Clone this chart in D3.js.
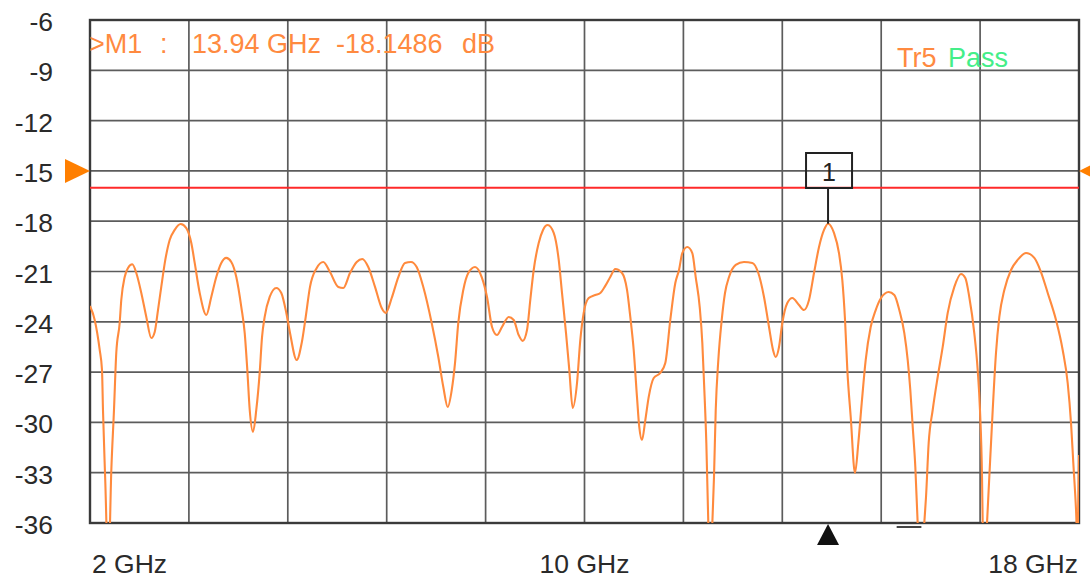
<!DOCTYPE html>
<html>
<head>
<meta charset="utf-8">
<script src="https://cdn.jsdelivr.net/npm/d3@7"></script>
<style>
  html, body { margin: 0; padding: 0; background: #fff; }
  svg { display: block; }
  text { font-family: "Liberation Sans", Arial, sans-serif; }
</style>
</head>
<body>
<svg id="chart" width="1090" height="580"></svg>
<script>
// ---- data ----
const freqGHz = [2.000,2.076,2.157,2.194,2.210,2.248,2.296,2.345,2.388,2.425,
2.480,2.506,2.561,2.615,2.684,2.749,2.830,2.911,2.992,3.047,
3.100,3.153,3.218,3.289,3.370,3.467,3.558,3.639,3.694,3.775,
3.882,3.962,4.043,4.124,4.205,4.286,4.367,4.448,4.503,4.545,
4.584,4.637,4.690,4.745,4.783,4.826,4.907,5.014,5.095,5.176,
5.236,5.344,5.425,5.490,5.559,5.668,5.774,5.883,6.017,6.098,
6.206,6.315,6.405,6.502,6.611,6.719,6.784,6.881,6.988,7.096,
7.193,7.285,7.392,7.528,7.635,7.716,7.787,7.852,7.905,7.958,
8.039,8.120,8.229,8.337,8.423,8.504,8.584,8.665,8.774,8.855,
8.935,9.000,9.070,9.123,9.178,9.259,9.329,9.405,9.502,9.583,
9.636,9.701,9.754,9.809,9.879,9.932,9.987,10.068,10.175,10.256,
10.336,10.417,10.498,10.607,10.688,10.741,10.796,10.849,10.886,10.930,
10.984,11.039,11.120,11.226,11.307,11.388,11.469,11.529,11.582,11.663,
11.744,11.799,11.864,11.906,11.934,11.971,12.003,12.035,12.068,12.095,
12.123,12.165,12.220,12.273,12.338,12.446,12.580,12.715,12.812,12.904,
12.985,13.050,13.093,13.147,13.200,13.281,13.362,13.470,13.551,13.632,
13.713,13.794,13.875,13.940,14.036,14.117,14.171,14.215,14.252,14.307,
14.376,14.430,14.485,14.549,14.630,14.711,14.797,14.921,15.012,15.093,
15.174,15.229,15.271,15.310,15.352,15.390,15.444,15.497,15.525,15.568,
15.633,15.714,15.795,15.876,15.983,16.091,16.161,16.225,16.306,16.361,
16.398,16.431,16.442,16.476,16.512,16.549,16.604,16.657,16.711,16.792,
16.900,17.008,17.143,17.277,17.385,17.494,17.628,17.736,17.817,17.871,
17.908,17.952,17.973,18.000];

const magDB = [-23.06,-23.89,-25.68,-26.87,-29.26,-33.61,-39,-32.84,-29.26,-25.86,
-24.07,-22.70,-21.33,-20.79,-20.57,-21.09,-22.28,-23.71,-24.97,-24.61,
-23.30,-21.92,-20.31,-19.12,-18.52,-18.17,-18.41,-19.30,-20.49,-22.28,
-23.59,-22.52,-21.33,-20.49,-20.19,-20.43,-21.33,-23.12,-24.67,-26.87,
-29.26,-30.57,-29.26,-27.05,-24.91,-23.71,-22.52,-21.98,-22.28,-23.47,
-24.67,-26.28,-25.26,-23.71,-21.92,-20.79,-20.43,-21.03,-21.92,-21.98,
-21.09,-20.43,-20.25,-20.73,-21.92,-23.18,-23.47,-22.58,-21.33,-20.49,
-20.43,-20.73,-21.92,-24.07,-26.10,-27.89,-29.08,-28.07,-26.46,-24.07,
-22.10,-21.09,-20.73,-21.33,-22.52,-24.31,-24.79,-24.31,-23.71,-23.89,
-24.79,-25.14,-24.49,-22.70,-20.91,-19.30,-18.52,-18.23,-18.70,-20.31,
-22.28,-24.67,-26.87,-29.14,-27.65,-25.09,-23.47,-22.58,-22.40,-22.28,
-21.86,-21.33,-20.85,-21.09,-22.10,-23.71,-25.68,-28.48,-30.27,-31.05,
-29.86,-28.48,-27.35,-27.05,-26.46,-23.89,-21.69,-20.91,-19.90,-19.54,
-19.90,-21.33,-23.12,-25.26,-27.65,-31.23,-36.0,-39,-36.0,-33.26,
-29.26,-26.28,-23.89,-22.28,-21.33,-20.61,-20.43,-20.49,-21.09,-22.52,
-24.31,-25.68,-26.10,-25.50,-24.07,-22.88,-22.58,-23.00,-23.30,-22.70,
-21.09,-19.54,-18.52,-18.15,-18.70,-19.90,-21.51,-23.89,-26.87,-29.68,
-33.02,-31.23,-28.84,-26.28,-24.31,-23.30,-22.58,-22.22,-22.40,-23.30,
-24.67,-26.28,-28.07,-30.27,-32.66,-36.0,-39,-36.0,-34.45,-31.23,
-29.26,-27.29,-25.50,-23.47,-21.92,-21.15,-21.39,-22.52,-24.67,-26.87,
-29.26,-33.26,-36.0,-39,-36.0,-33.26,-29.26,-25.86,-23.71,-22.10,
-20.91,-20.31,-19.90,-20.19,-21.03,-22.28,-23.89,-25.68,-27.65,-30.04,
-32.42,-35.22,-37,-31.94];

const yTicks = [-6,-9,-12,-15,-18,-21,-24,-27,-30,-33,-36];
const xGridGHz = [2,3.6,5.2,6.8,8.4,10,11.6,13.2,14.8,16.4,18];
const xLabels = [{f:2, t:"2 GHz", a:"start"}, {f:10, t:"10 GHz", a:"middle"}, {f:18, t:"18 GHz", a:"end"}];
const limitDB = -16;
const refDB = -15;
const marker = {name:"M1", f:13.94, db:-18.1486};
const markerText = [">M1", ":", "13.94 GHz", "-18.1486", "dB"];
const traceName = "Tr5";
const passText = "Pass";

// ---- layout ----
const W = 1090, H = 580;
const m = {left: 90, top: 20, right: 11, bottom: 57};
const x = d3.scaleLinear().domain([2, 18]).range([m.left, W - m.right]);
const y = d3.scaleLinear().domain([-6, -36]).range([m.top, H - m.bottom]);

const svg = d3.select("#chart");
const orange = "#ff8a3d";

svg.append("defs").append("clipPath").attr("id", "plot")
  .append("rect").attr("x", m.left).attr("y", m.top)
  .attr("width", W - m.left - m.right).attr("height", H - m.top - m.bottom);

// grid
const grid = svg.append("g").attr("stroke", "#5c5c5c").attr("stroke-width", 1.7);
grid.selectAll("line.h").data(yTicks).join("line").attr("class", "h")
  .attr("x1", m.left).attr("x2", W - m.right)
  .attr("y1", d => y(d)).attr("y2", d => y(d));
grid.selectAll("line.v").data(xGridGHz).join("line").attr("class", "v")
  .attr("y1", m.top).attr("y2", H - m.bottom)
  .attr("x1", d => x(d)).attr("x2", d => x(d));

// border
svg.append("rect").attr("x", m.left).attr("y", m.top)
  .attr("width", W - m.left - m.right).attr("height", H - m.top - m.bottom)
  .attr("fill", "none").attr("stroke", "#3a3a3a").attr("stroke-width", 2.4);

// y tick labels
svg.append("g").selectAll("text").data(yTicks).join("text")
  .attr("x", 53).attr("y", d => y(d) + 11)
  .attr("text-anchor", "end")
  .attr("font-size", 26.5).attr("fill", "#2a2a2a")
  .text(d => d);

// x labels
svg.append("g").selectAll("text").data(xLabels).join("text")
  .attr("x", d => x(d.f) + (d.a === "start" ? 2 : d.a === "end" ? -1 : 0))
  .attr("y", 573)
  .attr("text-anchor", d => d.a)
  .attr("font-size", 26.5).attr("fill", "#2a2a2a")
  .text(d => d.t);

// limit line
svg.append("line")
  .attr("x1", m.left).attr("x2", W - m.right)
  .attr("y1", y(limitDB)).attr("y2", y(limitDB))
  .attr("stroke", "#ff2a2a").attr("stroke-width", 2);

// reference level triangles
svg.append("path")
  .attr("d", `M${m.left},${y(refDB)} L${m.left - 25},${y(refDB) - 12} L${m.left - 25},${y(refDB) + 12} Z`)
  .attr("fill", "#ff7f00");
svg.append("path")
  .attr("d", `M${W - m.right},${y(refDB)} L${W - m.right + 22},${y(refDB) - 11} L${W - m.right + 22},${y(refDB) + 11} Z`)
  .attr("fill", "#ff7f00");

// trace
const data = d3.zip(freqGHz, magDB);
svg.append("path").datum(data)
  .attr("clip-path", "url(#plot)")
  .attr("fill", "none").attr("stroke", orange).attr("stroke-width", 2.1)
  .attr("stroke-linejoin", "round")
  .attr("d", d3.line().x(d => x(d[0])).y(d => y(d[1])).curve(d3.curveMonotoneX));

// marker
const mx = x(marker.f), my = y(marker.db);
svg.append("line").attr("x1", mx).attr("x2", mx).attr("y1", 189).attr("y2", my)
  .attr("stroke", "#222").attr("stroke-width", 2);
svg.append("rect").attr("x", mx - 22).attr("y", 153).attr("width", 46).attr("height", 35)
  .attr("fill", "none").attr("stroke", "#222").attr("stroke-width", 2);
svg.append("text").attr("x", mx + 1).attr("y", 181).attr("text-anchor", "middle")
  .attr("font-size", 25).attr("fill", "#222").text("1");

// bottom marker triangle
svg.append("path")
  .attr("d", `M${mx},${H - m.bottom + 1} L${mx - 11},${H - m.bottom + 22} L${mx + 11},${H - m.bottom + 22} Z`)
  .attr("fill", "#111");

// small out-of-range indicator
svg.append("line").attr("x1", x(15.05)).attr("x2", x(15.45))
  .attr("y1", 527).attr("y2", 527).attr("stroke", "#444").attr("stroke-width", 2);

// marker readout
const mtX = [89, 160, 192, 336, 462];
svg.append("g").selectAll("text").data(markerText).join("text")
  .attr("x", (d, i) => mtX[i]).attr("y", 53)
  .attr("font-size", 27).attr("fill", "#ff8a40")
  .text(d => d);

// trace label
svg.append("text").attr("x", 897).attr("y", 67).attr("font-size", 27)
  .attr("fill", "#ff8a40").text(traceName);
svg.append("text").attr("x", 948).attr("y", 67).attr("font-size", 27)
  .attr("fill", "#44ee88").text(passText);
</script>
</body>
</html>
